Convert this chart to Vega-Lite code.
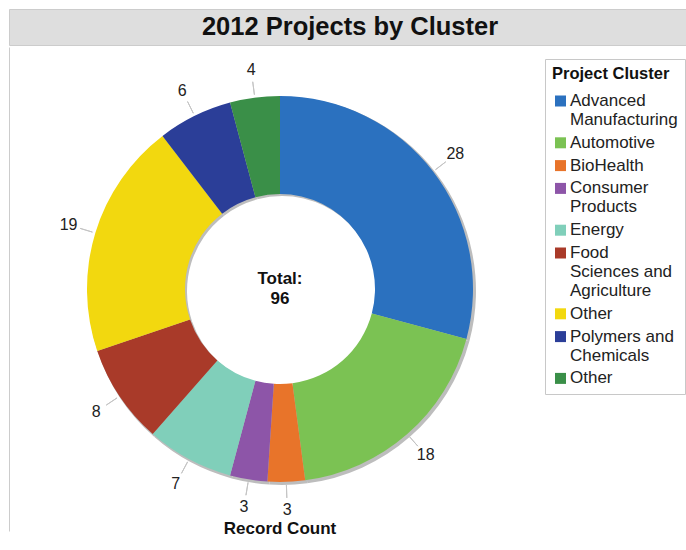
{
  "$schema": "https://vega.github.io/schema/vega-lite/v6.json",
  "padding": {"left": 8, "top": 8, "right": 0, "bottom": 0},
  "background": "white",
  "spacing": 0,
  "config": {
    "font": "Liberation Sans",
    "concat": {"spacing": 0}
  },
  "vconcat": [
    {
      "width": 678,
      "height": 36,
      "view": {"fill": "#dedede", "stroke": "#cccccc"},
      "data": {"values": [{"title": "2012 Projects by Cluster"}]},
      "mark": {"type": "text", "fontSize": 25.5, "fontWeight": "bold", "color": "#111111", "font": "Liberation Sans", "dx": 2},
      "encoding": {"text": {"field": "title", "type": "nominal"}}
    },
    {
      "width": 542,
      "height": 484,
      "view": {"stroke": "#cccccc", "strokeDash": [0, 1568, 484, 10]},
      "title": {"text": "Record Count", "orient": "bottom", "anchor": "middle", "fontSize": 17, "fontWeight": "bold", "color": "#111111", "offset": -10},
      "data": {
        "values": [
          {"cluster": "Advanced Manufacturing", "count": 28},
          {"cluster": "Automotive", "count": 18},
          {"cluster": "BioHealth", "count": 3},
          {"cluster": "Consumer Products", "count": 3},
          {"cluster": "Energy", "count": 7},
          {"cluster": "Food Sciences and Agriculture", "count": 8},
          {"cluster": "Other", "count": 19},
          {"cluster": "Polymers and Chemicals", "count": 6},
          {"cluster": "Other ", "count": 4}
        ]
      },
      "layer": [
        {
          "transform": [{"window": [{"op": "row_number", "as": "rank"}]}],
          "encoding": {
            "theta": {"field": "count", "type": "quantitative", "stack": true},
            "order": {"field": "rank", "type": "quantitative"}
          },
          "layer": [
            {
              "mark": {"type": "arc", "radius": 194, "radius2": 95, "color": "#bdbdbd", "xOffset": 2, "yOffset": 2}
            },
            {
              "mark": {"type": "arc", "radius": 193, "radius2": 95},
              "encoding": {
                "color": {
                  "field": "cluster",
                  "type": "nominal",
                  "scale": {
                    "domain": ["Advanced Manufacturing", "Automotive", "BioHealth", "Consumer Products", "Energy", "Food Sciences and Agriculture", "Other", "Polymers and Chemicals", "Other "],
                    "range": ["#2b71bf", "#7bc253", "#e8742a", "#8d55a8", "#80cfba", "#a93a29", "#f2d80f", "#2b3e98", "#3a8f48"]
                  },
                  "legend": {
                    "orient": "none",
                    "legendX": 536,
                    "legendY": 50,
                    "title": "Project Cluster",
                    "titleFontSize": 16.5,
                    "titleFontWeight": "bold",
                    "titleColor": "#111111",
                    "titlePadding": 10,
                    "labelFontSize": 17,
                    "labelColor": "#222222",
                    "labelLimit": 200,
                    "labelOffset": 1,
                    "symbolType": "square",
                    "symbolSize": 121,
                    "symbolStrokeWidth": 0,
                    "symbolOpacity": 1,
                    "strokeColor": "#c8c8c8",
                    "fillColor": "white",
                    "padding": 7,
                    "rowPadding": 4.8,
                    "labelExpr": "datum.label == 'Advanced Manufacturing' ? ['Advanced', 'Manufacturing'] : datum.label == 'Consumer Products' ? ['Consumer', 'Products'] : datum.label == 'Food Sciences and Agriculture' ? ['Food', 'Sciences and', 'Agriculture'] : datum.label == 'Polymers and Chemicals' ? ['Polymers and', 'Chemicals'] : datum.label"
                  }
                }
              }
            },
            {
              "mark": {"type": "arc", "radius": 209, "radius2": 196, "padAngle": 3.14159, "filled": false, "stroke": "#c4c4c4", "strokeWidth": 1}
            },
            {
              "mark": {"type": "text", "radius": 221, "fontSize": 16, "color": "#222222"},
              "encoding": {"text": {"field": "count", "type": "quantitative"}}
            }
          ]
        },
        {
          "transform": [{"aggregate": [{"op": "sum", "field": "count", "as": "total"}]}],
          "layer": [
            {
              "mark": {"type": "text", "text": "Total:", "fontSize": 17, "fontWeight": "bold", "color": "#111111", "dy": -10}
            },
            {
              "mark": {"type": "text", "fontSize": 17, "fontWeight": "bold", "color": "#111111", "dy": 10},
              "encoding": {"text": {"field": "total", "type": "quantitative"}}
            }
          ]
        }
      ]
    }
  ]
}
